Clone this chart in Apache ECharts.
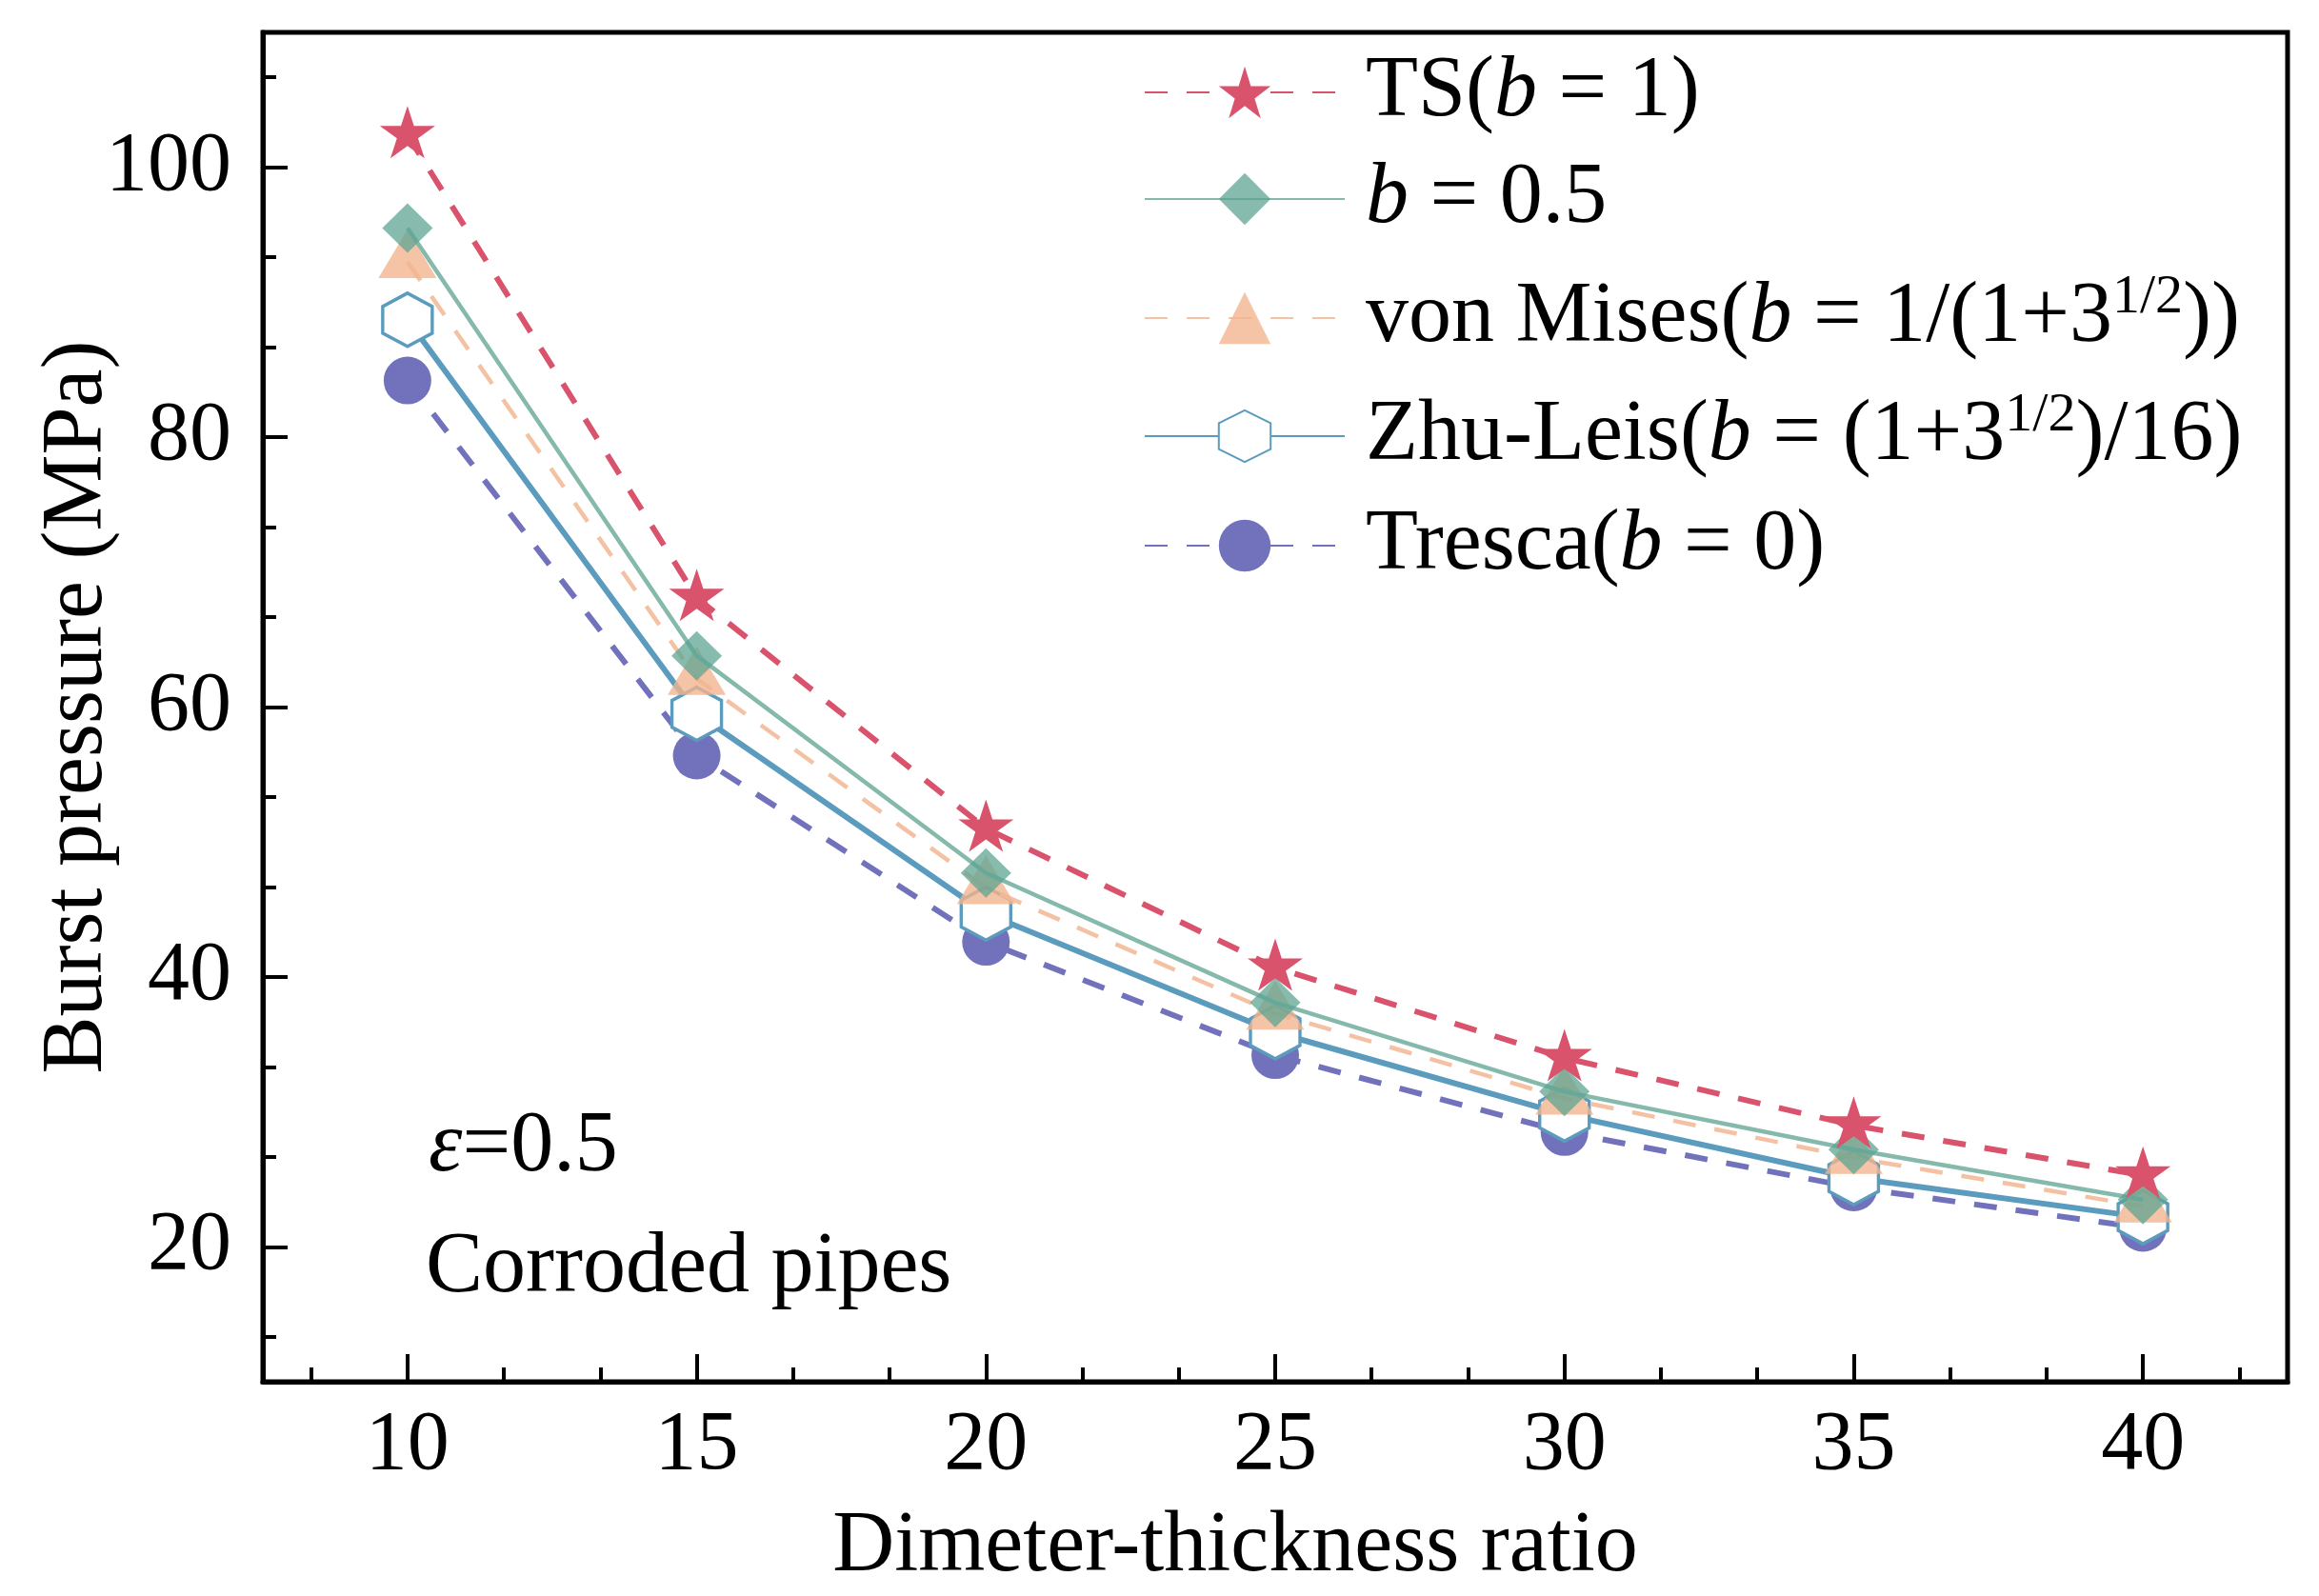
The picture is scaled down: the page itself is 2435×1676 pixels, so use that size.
<!DOCTYPE html>
<html><head><meta charset="utf-8">
<script src="https://cdn.jsdelivr.net/npm/echarts@6/dist/echarts.min.js"></script>
<style>html,body{margin:0;padding:0;background:#fff}#c{width:2435px;height:1676px}</style>
</head><body><div id="c"></div>
<script>
// ---- data ----
const ratios = [10, 15, 20, 25, 30, 35, 40];
const tsB1 = [102.4, 68.1, 51.0, 40.7, 34.0, 29.0, 25.3];
const b05 = [95.5, 63.8, 47.7, 38.1, 31.5, 27.2, 23.5];
const vonMises = [93.0, 62.1, 46.6, 37.3, 31.0, 26.6, 23.0];
const zhuLeis = [88.7, 59.5, 44.7, 35.9, 29.8, 25.1, 22.2];
const tresca = [84.2, 56.4, 42.6, 34.2, 28.5, 24.4, 21.4];
const xTicks = [10, 15, 20, 25, 30, 35, 40];
const yTicks = [20, 40, 60, 80, 100];
const seriesNames = ['TS(b = 1)', 'b = 0.5', 'von Mises(b = 1/(1+3^1/2))', 'Zhu-Leis(b = (1+3^1/2)/16)', 'Tresca(b = 0)'];
const legendLabels = ['TS({i|b} = 1)', '{i|b} = 0.5', 'von Mises({i|b} = 1/(1+3{s|1/2}))', 'Zhu-Leis({i|b} = (1+3{s|1/2})/16)', 'Tresca({i|b} = 0)'];
const xMinor = [];
for (let k = -1; k <= 19; k++) { if (k % 3 !== 0) xMinor.push(10 + k * 5 / 3); }
const yMinor = [];
for (let k = -1; k <= 13; k++) { if (k % 3 !== 0) yMinor.push(20 + k * 20 / 3); }

// ---- chart ----
const F = 'Liberation Serif';
const STAR = 'path://M100,0 L122.45,69.1 L195.1,69.1 L136.3,111.8 L158.8,180.9 L100,138.2 L41.2,180.9 L63.7,111.8 L4.9,69.1 L77.55,69.1 Z';
const HEX = 'path://M86.6,0 L173.2,50 L173.2,150 L86.6,200 L0,150 L0,50 Z';
const pairs = (arr) => ratios.map((x, i) => [x, arr[i]]);
const rowY = [97, 209, 334, 458, 573];
const DASH = [24, 20];

const chart = echarts.init(document.getElementById('c'), null, { renderer: 'canvas' });
const gridBox = { left: 276, right: 33, top: 34, bottom: 225, outerBoundsMode: 'none' };

const option = {
  animation: false,
  backgroundColor: '#fff',
  grid: [
    Object.assign({ show: true, borderColor: '#000', borderWidth: 5, backgroundColor: 'transparent' }, gridBox),
    Object.assign({ show: false }, gridBox)
  ],
  xAxis: [
    {
      type: 'value', gridIndex: 0, min: 7.5, max: 42.5, position: 'bottom',
      axisLine: { show: true, onZero: false, lineStyle: { color: '#000', width: 5 } },
      axisTick: { show: true, inside: true, length: 29, customValues: xTicks, lineStyle: { color: '#000', width: 4 } },
      axisLabel: { show: true, customValues: xTicks, margin: 24, color: '#000', fontFamily: F, fontSize: 88, lineHeight: 88 },
      splitLine: { show: false },
      name: 'Dimeter-thickness ratio', nameLocation: 'middle', nameGap: 129, nameMoveOverlap: false,
      nameTextStyle: { color: '#000', fontFamily: F, fontSize: 90, lineHeight: 90, padding: [0, 84, 0, 0] }
    },
    {
      type: 'value', gridIndex: 1, min: 7.5, max: 42.5, position: 'bottom',
      axisLine: { show: false, onZero: false },
      axisTick: { show: true, inside: true, length: 15, customValues: xMinor, lineStyle: { color: '#000', width: 4 } },
      axisLabel: { show: false }, splitLine: { show: false }
    }
  ],
  yAxis: [
    {
      type: 'value', gridIndex: 0, min: 10, max: 110, position: 'left',
      axisLine: { show: true, onZero: false, lineStyle: { color: '#000', width: 5 } },
      axisTick: { show: true, inside: true, length: 26, customValues: yTicks, lineStyle: { color: '#000', width: 4 } },
      axisLabel: { show: true, customValues: yTicks, margin: 33, color: '#000', fontFamily: F, fontSize: 88 },
      splitLine: { show: false },
      name: 'Burst pressure (MPa)', nameLocation: 'middle', nameGap: 149, nameMoveOverlap: false,
      nameTextStyle: { color: '#000', fontFamily: F, fontSize: 90, lineHeight: 90 }
    },
    {
      type: 'value', gridIndex: 1, min: 10, max: 110, position: 'left',
      axisLine: { show: false, onZero: false },
      axisTick: { show: true, inside: true, length: 14, customValues: yMinor, lineStyle: { color: '#000', width: 4 } },
      axisLabel: { show: false }, splitLine: { show: false }
    }
  ],
  legend: seriesNames.map((n, i) => ({
    show: true, orient: 'vertical', left: 1201, top: rowY[i] - 50, padding: 0,
    itemWidth: 210, itemHeight: 68, selectedMode: false,
    data: [n], formatter: () => legendLabels[i],
    textStyle: {
      color: '#000', fontFamily: F, fontSize: 90, lineHeight: 100, padding: [0, 0, 0, 17],
      rich: {
        i: { fontStyle: 'italic', fontFamily: F, fontSize: 90, lineHeight: 100, color: '#000' },
        s: { fontFamily: F, fontSize: 58, lineHeight: 40, verticalAlign: 'top', color: '#000' }
      }
    }
  })),
  graphic: [
    {
      type: 'text', x: 450, y: 1205,
      style: {
        text: '{i|ε}=0.5', fill: '#000', fontFamily: F, fontSize: 90, verticalAlign: 'middle', align: 'left',
        rich: { i: { fontStyle: 'italic', fontFamily: F, fontSize: 90, fill: '#000' } }
      }
    },
    {
      type: 'text', x: 447, y: 1332,
      style: { text: 'Corroded pipes', fill: '#000', fontFamily: F, fontSize: 90, verticalAlign: 'middle', align: 'left' }
    }
  ],
  series: [
    {
      name: seriesNames[0], type: 'line', data: pairs(tsB1), z: 6,
      symbol: STAR, symbolSize: [58, 55], symbolOffset: [0, -3],
      itemStyle: { color: '#D9536C' },
      lineStyle: { color: '#D9536C', width: 6, type: DASH }
    },
    {
      name: seriesNames[1], type: 'line', data: pairs(b05), z: 5,
      symbol: 'diamond', symbolSize: [53, 52],
      itemStyle: { color: 'rgba(94,164,146,0.75)' },
      lineStyle: { color: '#85B9AC', width: 4.5, type: 'solid' }
    },
    {
      name: seriesNames[2], type: 'line', data: pairs(vonMises), z: 4,
      symbol: 'triangle', symbolSize: [61, 51], symbolOffset: [0, -8.5],
      itemStyle: { color: 'rgba(242,180,143,0.8)' },
      lineStyle: { color: '#F4C1A3', width: 4.5, type: DASH }
    },
    {
      name: seriesNames[3], type: 'line', data: pairs(zhuLeis), z: 3,
      symbol: HEX, symbolSize: [52, 56],
      itemStyle: { color: '#fff', borderColor: '#5B9BBE', borderWidth: 3.5 },
      lineStyle: { color: '#5B9BBE', width: 6, type: 'solid' }
    },
    {
      name: seriesNames[4], type: 'line', data: pairs(tresca), z: 2,
      symbol: 'circle', symbolSize: 50,
      itemStyle: { color: '#7272BC' },
      lineStyle: { color: '#7272BC', width: 6, type: DASH }
    }
  ]
};
chart.setOption(option);
</script></body></html>
